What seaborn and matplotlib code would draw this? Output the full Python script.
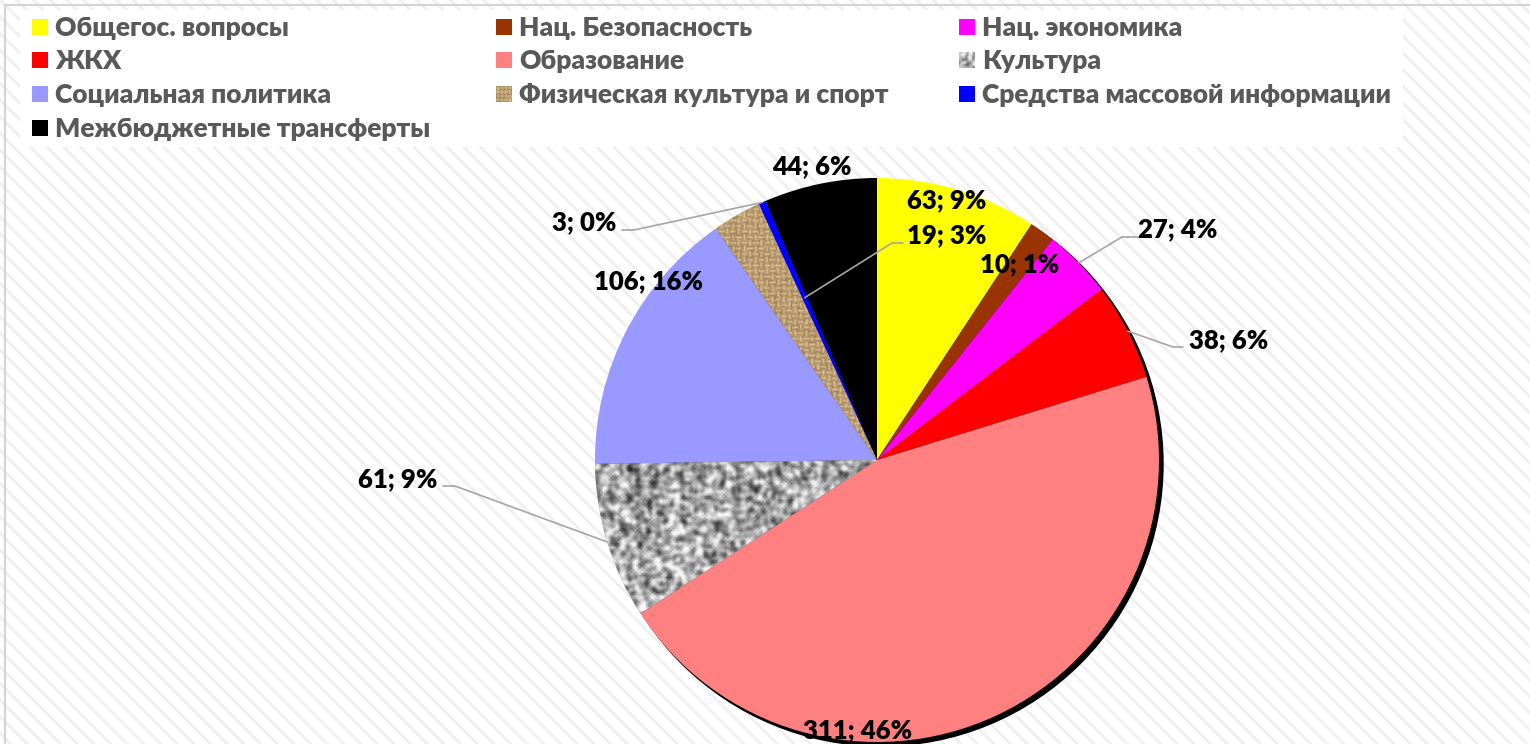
import numpy as np
import matplotlib
matplotlib.use('Agg')
import matplotlib.pyplot as plt
from matplotlib.patches import Rectangle, Circle
import seaborn as sns

categories = ['Общегос. вопросы', 'Нац. Безопасность', 'Нац. экономика', 'ЖКХ',
              'Образование', 'Культура', 'Социальная политика',
              'Физическая культура и спорт', 'Средства массовой информации',
              'Межбюджетные трансферты']
values = [63, 10, 27, 38, 311, 61, 106, 19, 3, 44]
colors = ['#ffff00', '#993300', '#ff00ff', '#ff0000', '#ff8080',
          '#a6a6a6', '#9999ff', '#b89868', '#0000ff', '#000000']
textured = {5: 'noise', 7: 'burlap'}

# label baselines in px (from top-left), leaders: label -> (start, elbow, wedge, radius frac)
label_xy = [(947, 208), (1020, 272), (1178, 237), (1229, 348), (858, 738),
            (398, 487), (649, 289), (947, 243), (584, 230), (812, 174)]
leaders = {2: ((1138, 237), (1122, 237), 2, 1.0),
           3: ((1183, 347), (1173, 347), 3, 1.0),
           5: ((443, 486), (455, 486), 5, 1.0),
           7: ((903, 243), (892, 243), 8, 0.63),
           8: ((622, 230), (634, 230), 8, 1.0)}

W, H = 1530, 744
CX, CY, R = 877, H - 460, 282

sns.set_theme(style='white')
plt.rcParams['font.family'] = ['Lato', 'Open Sans', 'DejaVu Sans']
plt.rcParams['hatch.linewidth'] = 2.0

# textures for the two patterned wedges
rng = np.random.default_rng(7)
n = 300
noise = rng.random((n, n))
for _ in range(2):
    noise = (noise + np.roll(noise, 1, 0) + np.roll(noise, -1, 0)
             + np.roll(noise, 1, 1) + np.roll(noise, -1, 1)) / 5
noise = np.clip((noise - noise.mean()) / noise.std() * 0.17 + 0.66, 0.15, 0.97)
grey_img = np.dstack([noise] * 3)

yy, xx = np.mgrid[0:n, 0:n]
p = 3
horiz = ((xx // p + yy // p) % 2 == 0)
wave = np.where(horiz, np.sin(np.pi * ((yy % p) + 0.5) / p), np.sin(np.pi * ((xx % p) + 0.5) / p))
jit = rng.random((n, n)) * 0.25
shade = np.clip(0.2 + 0.65 * wave + jit, 0, 1)
base = np.array([0.88, 0.76, 0.57])
dark = np.array([0.30, 0.20, 0.09])
burlap_img = dark + (base - dark) * shade[..., None]
tex = {'noise': grey_img, 'burlap': burlap_img}

fig = plt.figure(figsize=(W / 100, H / 100), dpi=100)
ax = fig.add_axes([0, 0, 1, 1])

# striped background + frame
ax.add_patch(Rectangle((0, 0), W, H, facecolor='white', edgecolor='#f0f0f0',
                       hatch='\\\\', lw=0, zorder=0))
ax.add_patch(Rectangle((5, -10), W, H - 5 + 10, fill=False, edgecolor='#d4d4d4', lw=1.5, zorder=0.5))

# shadow
ax.add_patch(Circle((CX + 4, CY - 4), R, color='black', zorder=1))

wedges, _ = ax.pie(values, colors=colors, startangle=90, counterclock=False,
                   center=(CX, CY), radius=R, wedgeprops=dict(linewidth=0, zorder=2))
for i, w in enumerate(wedges):
    w.set_zorder(2)
    if i in textured:
        im = ax.imshow(tex[textured[i]], extent=(CX - R, CX + R, CY - R, CY + R),
                       origin='lower', interpolation='bilinear', zorder=2.5)
        im.set_clip_path(w)

total = sum(values)
for i, (v, (x, y)) in enumerate(zip(values, label_xy)):
    ax.text(x, H - y, f'{v}; {round(v / total * 100)}%', ha='center', va='baseline',
            fontsize=18.5, fontweight='heavy', color='black', zorder=5)

for i, (start, elbow, wi, frac) in leaders.items():
    w = wedges[wi]
    mid = np.deg2rad((w.theta1 + w.theta2) / 2)
    ex, ey = CX + frac * R * np.cos(mid), CY + frac * R * np.sin(mid)
    ax.plot([start[0], elbow[0], ex], [H - start[1], H - elbow[1], ey],
            color='#a6a6a6', lw=1.2, zorder=4)

# legend box
ax.add_patch(Rectangle((20, H - 147), 1383, 137, facecolor='white', edgecolor='none', zorder=3))
col_x = [32, 496, 959]
row_top = [19, 52, 86, 120]
for k, name in enumerate(categories):
    r_, c_ = divmod(k, 3)
    sx, sy = col_x[c_], row_top[r_]
    if k in textured:
        im = ax.imshow(tex[textured[k]][:12, :12], extent=(sx, sx + 16, H - sy - 16, H - sy),
                       origin='lower', interpolation='bilinear', zorder=4)
    else:
        ax.add_patch(Rectangle((sx, H - sy - 16), 16, 16, facecolor=colors[k], lw=0, zorder=4))
    ax.text(sx + 23, H - sy - 17, name, ha='left', va='baseline', fontsize=19,
            fontweight='heavy', color='#595959', zorder=4)

ax.set_xlim(0, W)
ax.set_ylim(0, H)
ax.set_aspect('auto')
ax.set_axis_off()

fig.savefig('out.png', dpi=100, facecolor='white')
